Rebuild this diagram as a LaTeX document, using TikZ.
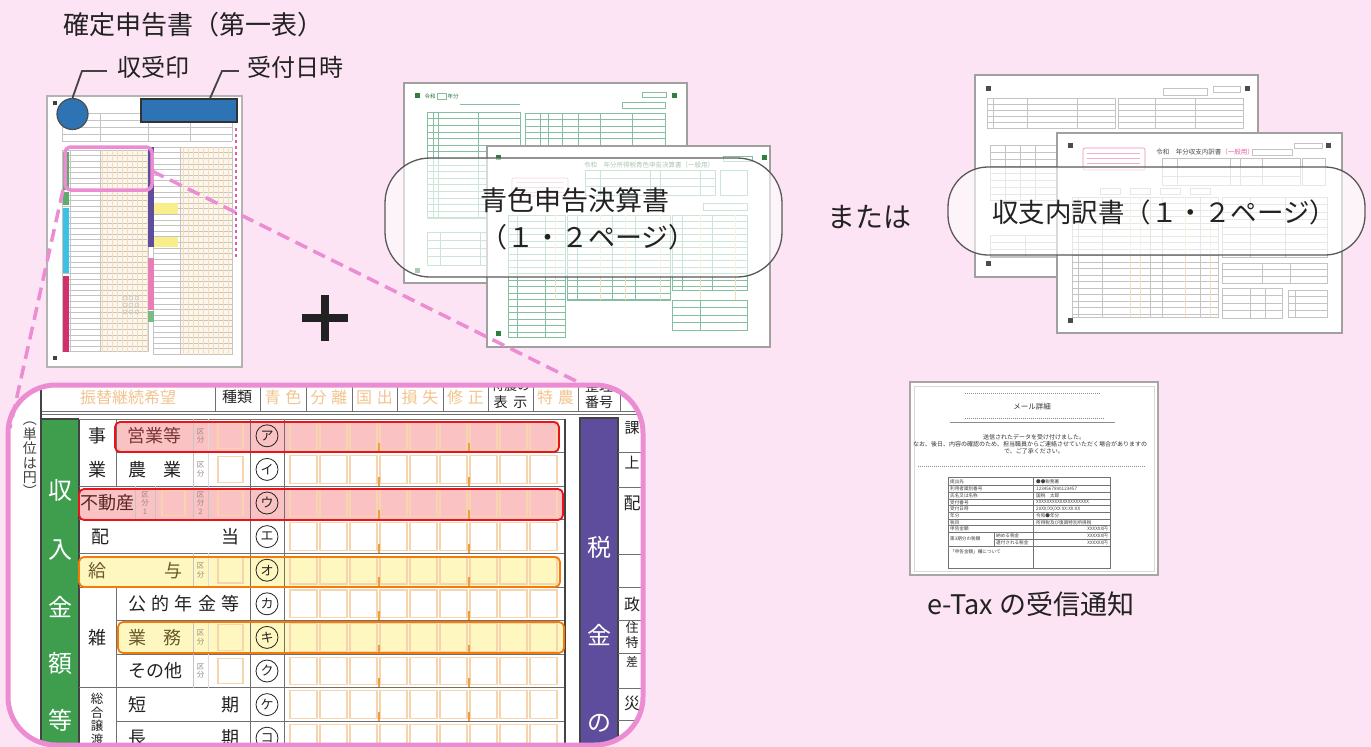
\documentclass[tikz,border=0pt]{standalone}
\usepackage{fontspec}
\setmainfont{Noto Sans CJK JP}
\newcommand{\myfs}[1]{\fontsize{#1}{#1}\selectfont}
\definecolor{bgpink}{HTML}{FCE4F4}
\definecolor{fpink}{HTML}{EC8DD3}
\definecolor{stampblue}{HTML}{2E74B5}
\definecolor{tgreen}{HTML}{3E9E4E}
\definecolor{tpurple}{HTML}{5E4C9C}
\definecolor{hred}{HTML}{E8141C}
\definecolor{hredfill}{HTML}{FAC2C2}
\definecolor{hora}{HTML}{F47A0A}
\definecolor{hyelfill}{HTML}{FFF7C0}
\definecolor{hltextr}{HTML}{7A3535}
\definecolor{hltexty}{HTML}{6A5A2E}
\definecolor{cellc}{HTML}{F6D5AE}
\definecolor{tickc}{HTML}{EE9E3E}
\definecolor{fadeor}{HTML}{F2C48E}
\definecolor{tline}{HTML}{707070}
\definecolor{kbgray}{HTML}{988888}
\definecolor{fgreen}{HTML}{84BFA0}
\definecolor{fgray}{HTML}{A0A0A0}
\definecolor{lgray}{HTML}{C4C4C4}
\definecolor{lorange}{HTML}{F3DDC0}
\definecolor{creamc}{HTML}{FFF6EA}
\definecolor{txt}{HTML}{222222}
\definecolor{cyanbar}{HTML}{3CC0E6}
\definecolor{crimson}{HTML}{D2306A}
\definecolor{pinkbar}{HTML}{E97DB8}
\definecolor{thumbyel}{HTML}{F8EE8A}
\definecolor{ptext}{HTML}{E0609A}
\newcommand{\rtable}[7]{%
  \draw[#1] (#2,#3) rectangle (#4,#5);
  \pgfmathtruncatemacro{\rtn}{floor((#5-#3)/#6)}
  \foreach \rr in {1,...,\rtn} {\pgfmathsetmacro{\rry}{#3+\rr*#6}\ifdim\rry pt<#5pt \draw[#1] (#2,\rry) -- (#4,\rry);\fi}
  \foreach \vx in {#7} {\draw[#1] (\vx,#3) -- (\vx,#5);}%
}
\tikzset{
  lab/.style={inner sep=0, text=txt, font=\myfs{18}},
  labr/.style={lab, text=hltextr},
  laby/.style={lab, text=hltexty},
  wlab/.style={inner sep=0, text=white, font=\myfs{24}},
  kb/.style={inner sep=0, text=kbgray, font=\fontsize{7.5}{8.5}\selectfont, align=center},
  circk/.style={circle, draw=txt, line width=0.8, minimum size=22, inner sep=0, text=txt, font=\myfs{13}},
  cellbox/.style={draw=cellc, line width=1.1},
  tl/.style={draw=tline, line width=0.9},
  dk/.style={draw=txt!85, line width=1.4},
  hlred/.style={draw=hred, line width=1.8, rounded corners=5},
  hlyel/.style={draw=hora, line width=1.8, rounded corners=5},
  hdr/.style={inner sep=0, font=\myfs{16}, text=fadeor},
  hdrk/.style={inner sep=0, font=\myfs{15}, text=txt},
  formframe/.style={fill=white, draw=fgray, line width=1.6},
  fg/.style={draw=fgreen, line width=0.55},
  fgr/.style={draw=lgray, line width=0.55},
  big/.style={inner sep=0, text=txt, font=\myfs{27}},
  dashl/.style={draw=fpink, line width=3.5, dash pattern=on 13pt off 7pt},
  labbox/.style={draw=black!65, line width=1.3, fill=white, fill opacity=0.6},
  leader/.style={draw=txt!85, line width=1.8},
  ftext/.style={inner sep=0, font=\myfs{5.5}},
  ettext/.style={inner sep=0, font=\myfs{4.6}, text=black!75},
  etline/.style={draw=black!55, line width=0.6},
}
\begin{document}
\begin{tikzpicture}[x=1pt,y=-1pt]
\fill[bgpink] (0,0) rectangle (1371,747);
\useasboundingbox (0,0) rectangle (1371,747);

% ---------------- titles ----------------
\node[inner sep=0, text=txt, font=\myfs{26}] (title) at (193,25) {確定申告書（第一表）};
\node[inner sep=0, text=txt, font=\myfs{24}] (shuju) at (153,67.5) {収受印};
\node[inner sep=0, text=txt, font=\myfs{24}] (uketsuke) at (295,67.5) {受付日時};

% ---------------- form A (thumbnail) ----------------
\draw[fill=white, draw=fgray!80, line width=2] (47,96) rectangle (242,367);
\fill[black!75] (53,101) rectangle (57,105);
\fill[black!75] (53,356) rectangle (57,360);
\fill[creamc] (100,150) rectangle (148,352);
\fill[creamc] (180,147) rectangle (232,355);
\foreach \y in {113,120,127,134,141} \draw[fgr] (62,\y) -- (232,\y);
\foreach \x in {62,100,148,190,232} \draw[fgr] (\x,113) -- (\x,141);
\foreach \k in {0,...,36} \draw[fgr] (62,{150+5.6*\k}) -- (148,{150+5.6*\k});
\foreach \x in {102,107,...,147} \draw[draw=lorange, line width=0.5] (\x,150) -- (\x,352);
\foreach \x in {62,70,100,148} \draw[fgr] (\x,150) -- (\x,352);
\foreach \k in {0,...,37} \draw[fgr] (153,{147+5.6*\k}) -- (232,{147+5.6*\k});
\foreach \x in {183,188,...,228} \draw[draw=lorange, line width=0.5] (\x,147) -- (\x,355);
\foreach \x in {153,180,232} \draw[fgr] (\x,147) -- (\x,355);
\fill[tgreen!85] (63,152) rectangle (69,190);
\fill[tgreen!85] (63,192) rectangle (69,205);
\fill[cyanbar] (63,208) rectangle (69,273);
\fill[crimson] (63,276) rectangle (69,352);
\fill[tpurple] (148,147) rectangle (154,247);
\fill[pinkbar] (148,258) rectangle (154,310);
\fill[tgreen!70] (148,311) rectangle (154,322);
\fill[thumbyel] (154,203) rectangle (178,214);
\fill[thumbyel] (154,237) rectangle (178,247);
\foreach \y in {128,134,...,258} \fill[ptext] (234.5,\y) rectangle (237,{\y+3});
\foreach \x in {125,131,137} \foreach \y in {298,305,312} \draw[fgr] (\x,\y) circle (2);
\draw[fpink, line width=3.5, rounded corners=6] (65,147) rectangle (152,190);
\node[circle, fill=stampblue, draw=black!70, line width=1.2, minimum size=31, inner sep=0] (stamp) at (72.5,114) {};
\node[rectangle, fill=stampblue, draw=black!80, line width=1.2, minimum width=96, minimum height=23, inner sep=0] (datebox) at (189,110.5) {};
\coordinate (sj1) at (82,71);
\coordinate (uk1) at (222,71);
\draw[leader] (shuju.west) ++(-10,3.5) -- (sj1) -- (stamp.north);
\draw[leader] (uketsuke.west) ++(-8,3.5) -- (uk1) -- ([xshift=21pt]datebox.north);

% ---------------- plus ----------------
\draw[line width=8, txt] (302,318) -- (348,318);
\draw[line width=8, txt] (325,295) -- (325,341);

% ---------------- form B (青色申告決算書) ----------------
\draw[formframe] (404,83) rectangle (687,283);
\fill[tgreen!80!black] (415,93) rectangle (420,98);
\fill[tgreen!80!black] (672,93) rectangle (677,98);
\fill[tgreen!80!black] (415,268) rectangle (420,273);
\node[ftext, text=tgreen!70!black] (b1a) at (430,96) {令和};
\draw[fg] (437,93) rectangle (446,99);
\node[ftext, text=tgreen!70!black] (b1b) at (453,96) {年分};
\draw[fg] (460,104) -- (520,104);
\draw[fg] (642,92) rectangle (666,97);
\draw[fg] (622,102) rectangle (665,108);
\rtable{fg}{427}{112}{520}{218}{6.6}{433,438,478}
\rtable{fg}{525}{113}{665}{145}{6.4}{540,548,562,578,600,632}
\rtable{fg}{427}{232}{520}{265}{8.2}{440,480}
\draw[formframe] (487,146) rectangle (770,347);
\fill[tgreen!80!black] (496,155) rectangle (501,160);
\fill[tgreen!80!black] (762,155) rectangle (767,160);
\fill[tgreen!80!black] (496,331) rectangle (501,336);
\draw[fg] (723,156) rectangle (752,161);
\node[ftext, font=\myfs{6.5}, text=tgreen!70!black] (b2t) at (649,165) {令和　年分所得税青色申告決算書（一般用）};
\rtable{fg}{585}{170}{715}{195}{8.3}{600,650,660,700}
\draw[fg] (720,170) rectangle (747,195);
\draw[draw=ptext!70, line width=0.6, rounded corners=1] (512,178) rectangle (568,196);
\foreach \y in {182,187,192} \draw[draw=ptext!50, line width=0.8] (516,\y) -- (564,\y);
\draw[fg] (703,203) rectangle (747,210);
\rtable{fg}{508}{215}{565}{337}{6.5}{517,545}
\rtable{fg}{567}{215}{670}{300}{6.5}{577,612,635}
\rtable{fg}{672}{215}{747}{290}{6.5}{682,712}
\rtable{fg}{672}{300}{747}{330}{7.5}{700}
\foreach \x in {555,600,625,660,700,735} \draw[draw=lorange, line width=0.7] (\x,215) -- (\x,300);

% ---------------- form C (収支内訳書) ----------------
\draw[formframe] (975,75) rectangle (1258,277);
\fill[black!70] (986,86) rectangle (991,91);
\fill[black!70] (1245,86) rectangle (1250,91);
\fill[black!70] (986,261) rectangle (991,266);
\draw[fgr] (1163,88) rectangle (1207,95);
\draw[fgr] (1213,86) rectangle (1240,92);
\rtable{fgr}{987}{98}{1115}{128}{6}{993,1027,1077}
\rtable{fgr}{1118}{98}{1243}{128}{6}{1155,1195}
\rtable{fgr}{990}{145}{1057}{200}{7}{1005,1020,1035}
\rtable{fgr}{990}{235}{1057}{257}{7}{1025}
\draw[formframe] (1057,133) rectangle (1342,333);
\fill[black!70] (1068,143) rectangle (1073,148);
\fill[black!70] (1326,143) rectangle (1331,148);
\fill[black!70] (1068,318) rectangle (1073,323);
\draw[fgr] (1294,143) rectangle (1322,148);
\draw[draw=ptext!70, line width=0.6, rounded corners=2] (1083,148) rectangle (1145,170);
\foreach \y in {153,158,163} \draw[draw=ptext!50, line width=0.8] (1087,\y) -- (1140,\y);
\node[ftext, font=\myfs{6.5}, text=black!70] (c2t) at (1205,152) {令和　年分収支内訳書\textcolor{ptext}{（一般用）}};
\draw[fgr] (1252,149) rectangle (1292,155);
\rtable{fgr}{1162}{158}{1300}{185}{9}{1177,1230,1240,1262}
\draw[fgr] (1302,158) rectangle (1325,185);
\foreach \x in {1100,1130,1160,1190} \draw[fgr] (\x,188) rectangle ({\x+20},194);
\rtable{fgr}{1072}{197}{1218}{317}{6.5}{1078,1102,1150,1162,1200}
\foreach \x in {1130,1140,1185,1210} \draw[draw=lorange, line width=0.7] (\x,197) -- (\x,317);
\rtable{fgr}{1222}{197}{1327}{257}{7.5}{1250,1285}
\rtable{fgr}{1222}{263}{1327}{283}{6.7}{1262,1290}
\rtable{fgr}{1222}{288}{1282}{318}{7.5}{1250,1265}
\rtable{fgr}{1288}{290}{1327}{317}{6.7}{1295}

% ---------------- label boxes ----------------
\draw[labbox, rounded corners=45] (385,158) rectangle (782,277);
\node[big] (blab1) at (574.5,200) {青色申告決算書};
\node[big] (blab2) at (588,237) {（１・２ページ）};
\draw[labbox, rounded corners=40] (948,167) rectangle (1365,255);
\node[inner sep=0, text=txt, font=\myfs{26.5}] (clab) at (1164,212) {収支内訳書（１・２ページ）};
\node[inner sep=0, text=txt, font=\myfs{28}] (mataha) at (869,217) {または};

% ---------------- e-Tax notice ----------------
\draw[fill=white, draw=black!35, line width=2.5] (910,382) rectangle (1158,575);
\draw[draw=black!15, line width=0.6] (914,386) rectangle (1154,571);
\draw[draw=black!45, line width=0.8, dash pattern=on 1pt off 1pt] (965,393) -- (1100,393);
\node[inner sep=0, font=\myfs{7.5}, text=black!80] (mail) at (1032,407) {メール詳細};
\draw[draw=black!45, line width=0.8, dash pattern=on 1pt off 1pt] (965,418) -- (1105,418);
\draw[draw=black!45, line width=0.6] (950,422) -- (1115,422);
\node[inner sep=0, font=\myfs{6}, text=black!80] (m1) at (1034,437) {送信されたデータを受け付けました。};
\node[inner sep=0, font=\myfs{6}, text=black!80] (m2) at (1030,444) {なお、後日、内容の確認のため、担当職員からご連絡させていただく場合がありますの};
\node[inner sep=0, font=\myfs{6}, text=black!80] (m3) at (1034,451) {で、ご了承ください。};
\draw[draw=black!45, line width=0.8, dash pattern=on 1pt off 1pt] (918,466) -- (1145,466);
\draw[etline, line width=0.9] (948,477) rectangle (1110,568);
\foreach \y in {485.7,492.3,499,505.7,512.3,519,525.7,532.3,546} \draw[etline] (948,\y) -- (1110,\y);
\draw[etline] (1033,477) -- (1033,568);
\draw[etline] (994,532.3) -- (994,546);
\draw[etline] (994,539.2) -- (1110,539.2);
\node[ettext, anchor=west] (e1) at (950,481.3) {提出先};
\node[ettext, anchor=west] (e2) at (950,489) {利用者識別番号};
\node[ettext, anchor=west] (e3) at (950,495.7) {氏名又は名称};
\node[ettext, anchor=west] (e4) at (950,502.3) {受付番号};
\node[ettext, anchor=west] (e5) at (950,509) {受付日時};
\node[ettext, anchor=west] (e6) at (950,515.7) {年分};
\node[ettext, anchor=west] (e7) at (950,522.3) {税目};
\node[ettext, anchor=west] (e8) at (950,529) {申告金額};
\node[ettext, anchor=west] (e9) at (950,539.2) {第3期分の税額};
\node[ettext, anchor=west] (e9a) at (996,535.7) {納める税金};
\node[ettext, anchor=west] (e9b) at (996,542.6) {還付される税金};
\node[ettext, anchor=west] (e10) at (950,552) {「申告金額」欄について};
\node[ettext, anchor=west] (v1) at (1036,481.3) {●●税務署};
\node[ettext, anchor=west] (v2) at (1036,489) {1234567890123457};
\node[ettext, anchor=west] (v3) at (1036,495.7) {国税　太郎};
\node[ettext, anchor=west] (v4) at (1036,502.3) {XXXXXXXXXXXXXXXXXXXX};
\node[ettext, anchor=west] (v5) at (1036,509) {20XX/XX/XX XX:XX:XX};
\node[ettext, anchor=west] (v6) at (1036,515.7) {令和●年分};
\node[ettext, anchor=west] (v7) at (1036,522.3) {所得税及び復興特別所得税};
\node[ettext, anchor=east] (v8) at (1108,529) {XXXXXX円};
\node[ettext, anchor=east] (v9) at (1108,535.7) {XXXXXX円};
\node[ettext, anchor=east] (v10) at (1108,542.6) {XXXXXX円};
\node[inner sep=0, text=txt, font=\myfs{27}] (etcap) at (1031,604) {e-Tax の受信通知};

% ---------------- magnified table ----------------
\begin{scope}
\clip[rounded corners=48] (8,385) rectangle (643,745);
\fill[white] (0,370) rectangle (660,760);
% header
\foreach \x in {41,215,260,306,352,397,443,488,533,578,620} \draw[tl] (\x,375) -- (\x,411.5);
\draw[tl] (41,411.5) -- (660,411.5);
\draw[tl] (41,414.5) -- (660,414.5);
\node[hdr] (h1) at (128,397) {振替継続希望};
\node[hdrk] (h2) at (237,397) {種類};
\node[hdr] (h3) at (283,397) {青\hspace{5pt}色};
\node[hdr] (h4) at (329,397) {分\hspace{5pt}離};
\node[hdr] (h5) at (374.5,397) {国\hspace{5pt}出};
\node[hdr] (h6) at (420,397) {損\hspace{5pt}失};
\node[hdr] (h7) at (465.5,397) {修\hspace{5pt}正};
\node[hdrk, font=\myfs{13}] (h8a) at (510.5,386) {特農の};
\node[hdrk, font=\myfs{14}] (h8b) at (510.5,402) {表\hspace{6pt}示};
\node[hdr] (h9) at (555.5,397) {特\hspace{5pt}農};
\node[hdrk, font=\myfs{14}] (h10a) at (599,386) {整理};
\node[hdrk, font=\myfs{14}] (h10b) at (599,402) {番号};
% unit note
\node[inner sep=0, text=black!75, font=\fontsize{14}{14.4}\selectfont, align=center] (unit) at (30,459.5) {︵\\単\\位\\は\\円\\︶};
% highlight fills
\fill[hredfill, rounded corners=5] (115,422) rectangle (559,452);
\fill[hredfill, rounded corners=5] (79,489) rectangle (563,520);
\fill[hyelfill, rounded corners=5] (79,557) rectangle (560,587);
\fill[hyelfill, rounded corners=5] (118,622) rectangle (564,653);
% green column
\fill[tgreen] (41,419) rectangle (79,760);
\draw[dk] (41,375) -- (41,760);
\draw[dk] (79,419) -- (79,760);
\draw[dk] (41,419) -- (79,419);
\node[wlab] (g1) at (60.5,490) {収};
\node[wlab] (g2) at (60.5,550) {入};
\node[wlab] (g3) at (60.5,607) {金};
\node[wlab] (g4) at (60.5,663) {額};
\node[wlab] (g5) at (60.5,720) {等};
% grid lines
\draw[tl] (79,419) -- (565,419);
\foreach \i in {2,3,4,5,8} \draw[tl] (79,{419+33.6*\i}) -- (565,{419+33.6*\i});
\foreach \i in {1,6,7,9} \draw[tl] (116,{419+33.6*\i}) -- (565,{419+33.6*\i});
\draw[tl] (116,419) -- (116,486.2);
\draw[tl] (116,587) -- (116,760);
\draw[tl] (250,419) -- (250,760);
\draw[tl] (284,419) -- (284,760);
\draw[dk] (565,419) -- (565,760);
\foreach \i in {0,1,4,6,7} {
  \draw[draw=lgray, line width=0.7] (193,{419+33.6*\i}) -- (193,{452.6+33.6*\i});
  \draw[draw=lgray!60, line width=0.6] (208,{419+33.6*\i}) -- (208,{452.6+33.6*\i});
}
\foreach \x in {135,155,193,208} \draw[draw=lgray, line width=0.7] (\x,486.2) -- (\x,519.8);
% digit cells
\foreach \i in {0,...,9} {
  \foreach \k in {0,...,8} {\draw[cellbox] ({290+30*\k},{422+33.6*\i}) rectangle ({317+30*\k},{449.6+33.6*\i});}
  \foreach \xx in {378.5,468.5} {\draw[draw=tickc, line width=2] (\xx,{443+33.6*\i}) -- (\xx,{452+33.6*\i});}
}
\foreach \i in {0,1,4,6,7} {
  \draw[cellbox] (218,{423+33.6*\i}) rectangle (243,{448.6+33.6*\i});
  \node[kb] (kb\i) at (200.5,{435.8+33.6*\i}) {区\\分};
}
\draw[cellbox] (162,490.2) rectangle (185,515.8);
\draw[cellbox] (218,490.2) rectangle (243,515.8);
\node[kb] (kbA) at (145,503) {区\\分\\1};
\node[kb] (kbB) at (200.5,503) {区\\分\\2};
% circled katakana
\foreach \i/\kt in {0/ア,1/イ,2/ウ,3/エ,4/オ,5/カ,6/キ,7/ク,8/ケ,9/コ}
  \node[circk] (ck\i) at (267,{435.8+33.6*\i}) {\kt};
% row labels
\node[lab] (l0a) at (97,435.8) {事};
\node[lab] (l1a) at (97,469.4) {業};
\node[labr] (l0b) at (154,435.8) {営業等};
\node[lab] (l1b) at (137,469.4) {農};
\node[lab] (l1c) at (172,469.4) {業};
\node[labr, text=hltextr!70!black] (l2) at (107,503) {不動産};
\node[lab] (l3a) at (100,536.6) {配};
\node[lab] (l3b) at (230,536.6) {当};
\node[laby] (l4a) at (97,570.2) {給};
\node[laby] (l4b) at (173,570.2) {与};
\foreach \x/\c [count=\n] in {137/公,160/的,183/年,207/金,230/等}
  \node[lab] (l5\n) at (\x,603.8) {\c};
\node[lab] (l6a) at (97,637.4) {雑};
\node[laby] (l6b) at (137,637.4) {業};
\node[laby] (l6c) at (172,637.4) {務};
\node[lab] (l7) at (155,671) {その他};
\node[inner sep=0, text=txt, font=\fontsize{12.5}{13.5}\selectfont, align=center] (l8) at (97,719) {総\\合\\譲\\渡};
\node[lab] (l8a) at (137,704.6) {短};
\node[lab] (l8b) at (230,704.6) {期};
\node[lab] (l9a) at (137,738.2) {長};
\node[lab] (l9b) at (230,738.2) {期};
% purple column
\fill[tpurple] (580,418) rectangle (618,760);
\draw[dk] (580,418) rectangle (618,760);
\node[wlab] (p1) at (599,547) {税};
\node[wlab] (p2) at (599,635) {金};
\node[wlab] (p3) at (599,723) {の};
\foreach \y in {452,487,554,587,620,653,688,720} \draw[tl] (618,\y) -- (660,\y);
\node[lab, font=\myfs{15}] (r1) at (632,428) {課};
\node[lab, font=\myfs{15}] (r2) at (632,463) {上};
\node[lab, font=\myfs{17}] (r3) at (632,503) {配};
\node[lab, font=\myfs{16}] (r4) at (632,604) {政};
\node[lab, font=\myfs{13}] (r5) at (632,628) {住};
\node[lab, font=\myfs{13}] (r6) at (632,643) {特};
\node[lab, font=\myfs{12}] (r7) at (632,662) {差};
\node[lab, font=\myfs{16}] (r8) at (632,703) {災};
% highlight borders
\draw[hlred] (115,422) rectangle (559,452);
\draw[hlred] (79,489) rectangle (563,520);
\draw[hlyel] (79,557) rectangle (560,587);
\draw[hlyel] (118,622) rectangle (564,653);
\end{scope}
\draw[fpink, line width=5, rounded corners=48] (8,385) rectangle (643,745);

% ---------------- dashed zoom lines ----------------
\coordinate (hlbl) at (63,190);
\coordinate (hlr) at (152,171);
\coordinate (zl) at (10,428);
\coordinate (zr) at (584,385);
\draw[dashl] (hlbl) -- (zl);
\draw[dashl] (hlr) -- (zr);
\end{tikzpicture}
\end{document}
